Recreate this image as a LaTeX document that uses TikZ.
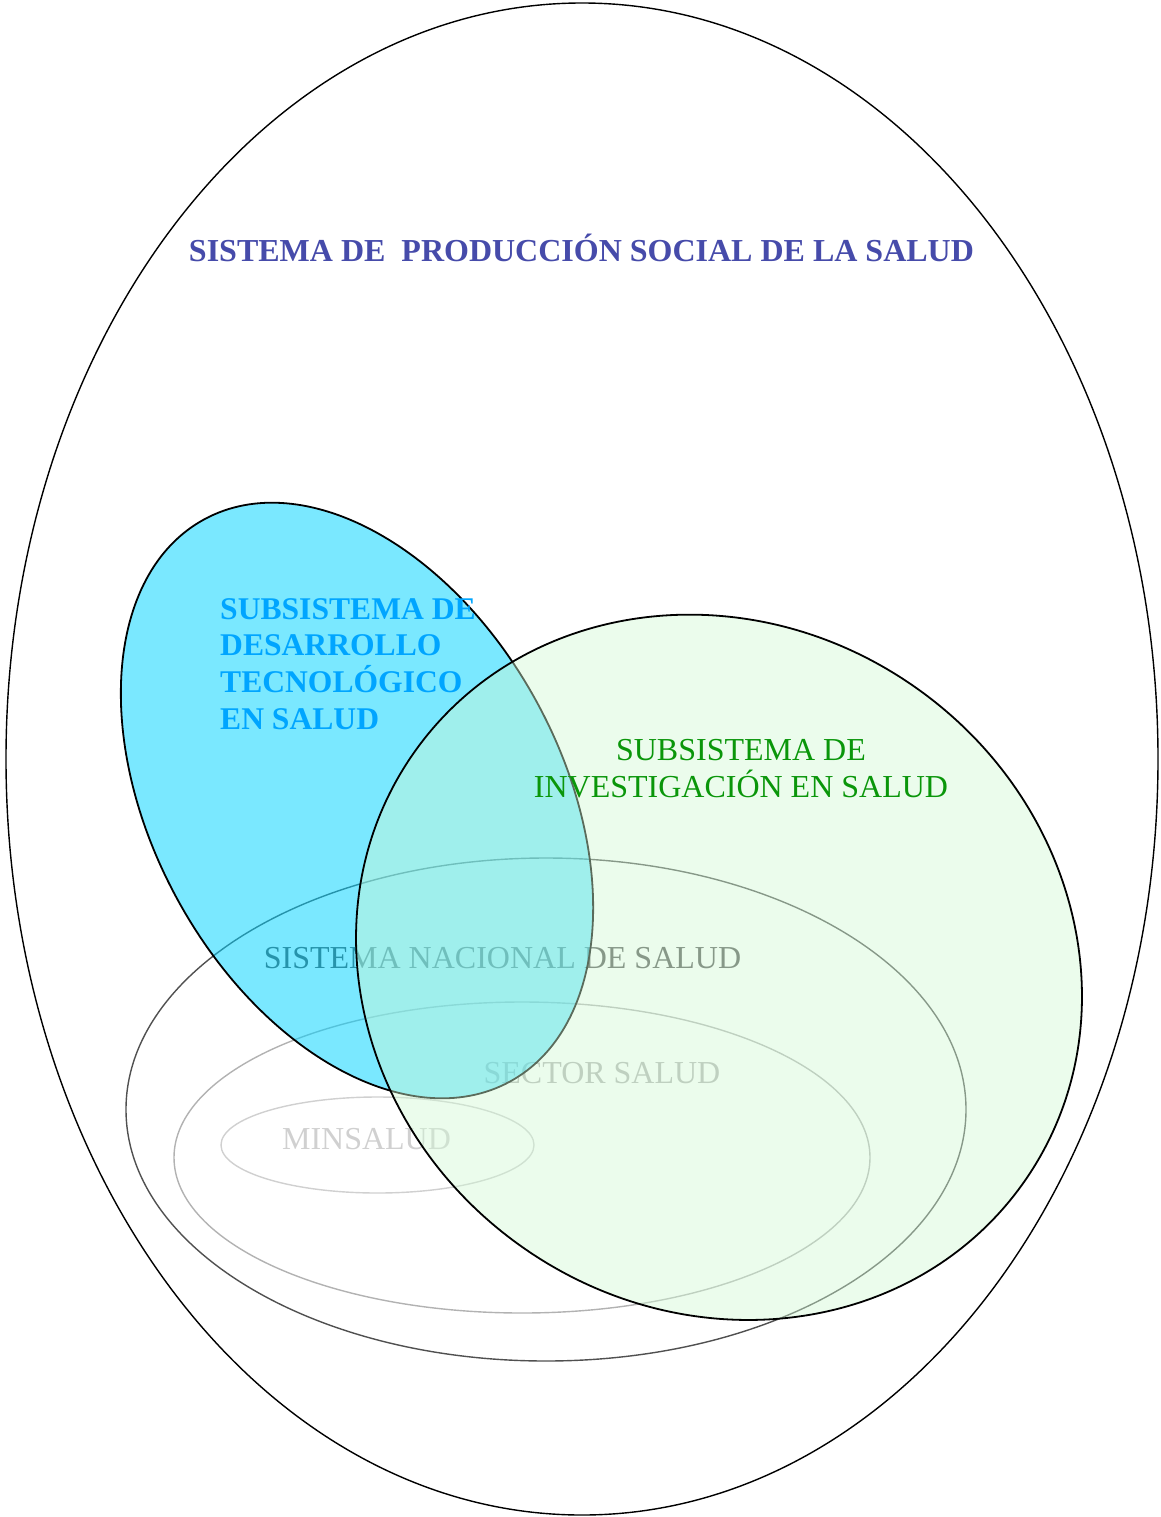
\documentclass[tikz,border=0pt]{standalone}
\usepackage{fontspec}
\setmainfont{Liberation Serif}
\definecolor{titleblue}{RGB}{70,75,170}
\definecolor{techtext}{RGB}{0,165,255}
\definecolor{techfill}{RGB}{0,210,255}
\definecolor{invtext}{RGB}{10,150,10}
\definecolor{invfill}{RGB}{209,249,212}
\definecolor{nacgray}{RGB}{80,80,80}
\definecolor{secgray}{RGB}{178,178,178}
\definecolor{mingray}{RGB}{208,208,208}
\begin{document}
\begin{tikzpicture}[x=1pt, y=1pt,
	txt/.style = {font=\fontsize{32}{37}\selectfont, inner sep=0pt},
	btxt/.style = {font=\fontsize{31.6}{36.7}\selectfont\bfseries, inner sep=0pt}]
\useasboundingbox (0,0) rectangle (1160,-1517);
% outer system
\draw [line width=1.4pt] (582,-759) ellipse [x radius=576pt, y radius=756pt];
\node [btxt, font=\fontsize{32}{37}\selectfont\bfseries, text=titleblue, anchor=base] (sps) at (581.5,-261.5) {SISTEMA DE\ \ PRODUCCIÓN SOCIAL DE LA SALUD};
% nested gray sets
\draw [nacgray, line width=1.4pt] (546,-1109.5) ellipse [x radius=420pt, y radius=251.5pt];
\node [txt, text=nacgray, anchor=base] (sns) at (502.5,-968) {SISTEMA NACIONAL DE SALUD};
\draw [secgray, line width=1.4pt] (522,-1157.5) ellipse [x radius=348pt, y radius=155.5pt];
\node [txt, text=secgray, anchor=base] (sec) at (602,-1083) {SECTOR SALUD};
\draw [mingray, line width=1.4pt] (377.5,-1145) ellipse [x radius=156.5pt, y radius=48pt];
\node [txt, text=mingray, anchor=base] (min) at (366.5,-1149) {MINSALUD};
% technological development
\draw [line width=1.8pt, fill=techfill, fill opacity=0.52] (357,-800.5) ellipse [x radius=320pt, y radius=205pt, rotate=-61.5];
\node [btxt, text=techtext, align=left, anchor=north west] (tec) at (220,-598) {SUBSISTEMA DE\\DESARROLLO\\TECNOLÓGICO\\EN SALUD};
% research
\draw [line width=1.8pt, fill=invfill, fill opacity=0.43] (719,-967.3) ellipse [x radius=373pt, y radius=342pt, rotate=-35.3];
\node [txt, text=invtext, align=center, anchor=north] (inv) at (741,-739) {SUBSISTEMA DE\\INVESTIGACIÓN EN SALUD};
\end{tikzpicture}
\end{document}
